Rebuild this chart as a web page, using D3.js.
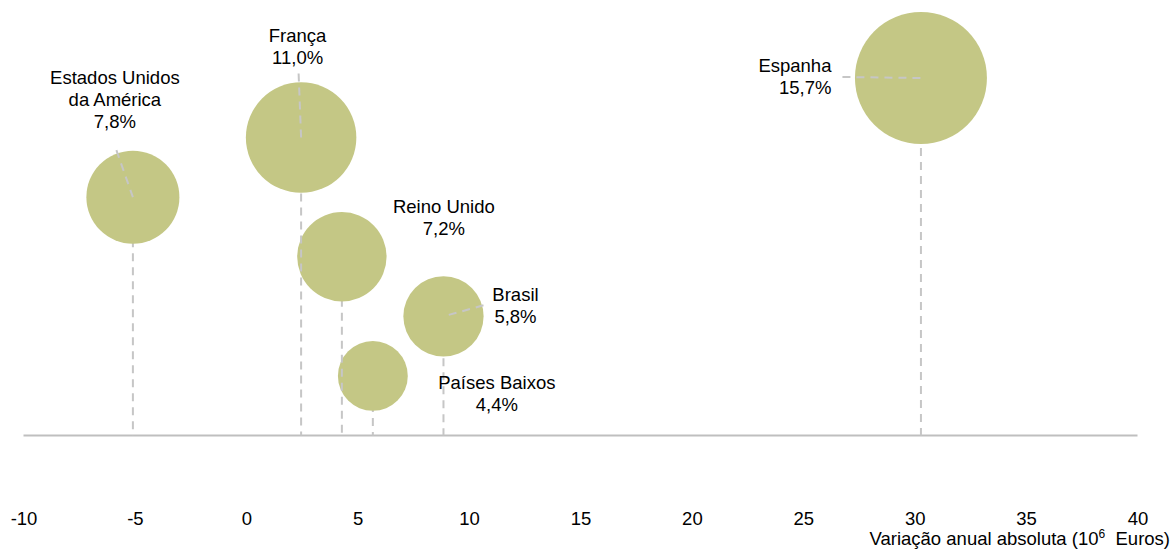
<!DOCTYPE html>
<html>
<head>
<meta charset="utf-8">
<script src="https://cdn.jsdelivr.net/npm/d3@7"></script>
<style>
  html, body { margin: 0; padding: 0; background: #ffffff; }
  svg { display: block; font-family: "Liberation Sans", Arial, sans-serif; }
</style>
</head>
<body>
<svg id="chart" width="1174" height="550"></svg>
<script>
// Países de destino, ordenados pela quota (desenho de trás para a frente)
const countries = ["Países Baixos", "Brasil", "Reino Unido", "Estados Unidos|da América", "França", "Espanha"];
// Variação anual absoluta (10^6 euros)
const variation = [5.68, 8.85, 4.29, -5.09, 2.46, 30.28];
// Posição vertical (ordem)
const rank = [1, 2, 3, 4, 5, 6];
// Quota (%)
const share = [4.4, 5.8, 7.2, 7.8, 11.0, 15.7];
const shareLabels = ["4,4%", "5,8%", "7,2%", "7,8%", "11,0%", "15,7%"];
const xTicks = [-10, -5, 0, 5, 10, 15, 20, 25, 30, 35, 40];

// Posição dos rótulos em relação ao centro da bolha (px) e início da linha de chamada
const labelStyle = [
  { dx: 124, dy: 13, anchor: "middle", leader: null },
  { dx: 72, dy: -15.5, anchor: "middle", leader: [40, -11] },
  { dx: 102, dy: -44, anchor: "middle", leader: null },
  { dx: -18, dy: -113, anchor: "middle", leader: [-16.5, -47] },
  { dx: -3.5, dy: -95.5, anchor: "middle", leader: [-2.5, -64] },
  { dx: -89.5, dy: -6.3, anchor: "end", leader: [-78.5, -1] }
];

const data = countries.map((c, i) => ({
  name: c, x: variation[i], y: rank[i], share: share[i], label: shareLabels[i], style: labelStyle[i]
}));

const svg = d3.select("#chart");
const x = d3.scaleLinear().domain([-10, 40]).range([23.5, 1137.5]);
const y = d3.scaleLinear().domain([0, 6]).range([435.5, 78]);
const r = d3.scaleSqrt().domain([0, 15.7]).range([0, 66]);

const fill = "#C4C785";
const grey = "#C6C6C6";
const fontSize = 18.5;

// Eixo horizontal na origem
svg.append("line")
  .attr("x1", x.range()[0]).attr("x2", x.range()[1])
  .attr("y1", y(0)).attr("y2", y(0))
  .attr("stroke", "#BFBFBF").attr("stroke-width", 2);

// Bolhas com linha de queda até ao eixo
const pts = svg.append("g");
data.forEach(d => {
  pts.append("line")
    .attr("x1", x(d.x)).attr("x2", x(d.x))
    .attr("y1", y(d.y)).attr("y2", y(0))
    .attr("stroke", grey).attr("stroke-width", 2)
    .attr("stroke-dasharray", "8,6");
  pts.append("circle")
    .attr("cx", x(d.x)).attr("cy", y(d.y)).attr("r", r(d.share))
    .attr("fill", fill);
});

// Linhas de chamada
const leaders = svg.append("g");
data.filter(d => d.style.leader).forEach(d => {
  leaders.append("line")
    .attr("x1", x(d.x) + d.style.leader[0]).attr("y1", y(d.y) + d.style.leader[1])
    .attr("x2", x(d.x)).attr("y2", y(d.y))
    .attr("stroke", grey).attr("stroke-width", 2)
    .attr("stroke-dasharray", "8,6");
});

// Rótulos: nome do país e quota
const labels = svg.append("g").attr("font-size", fontSize).attr("fill", "#000");
data.forEach(d => {
  const lines = d.name.split("|").concat([d.label]);
  const t = labels.append("text")
    .attr("text-anchor", d.style.anchor)
    .attr("x", x(d.x) + d.style.dx)
    .attr("y", y(d.y) + d.style.dy);
  lines.forEach((ln, i) => {
    t.append("tspan")
      .attr("x", x(d.x) + d.style.dx)
      .attr("dy", i === 0 ? 0 : 22)
      .text(ln);
  });
});

// Rótulos do eixo X (hífen simples como sinal negativo)
const axis = d3.axisBottom(x).tickValues(xTicks).tickSize(0).tickPadding(0)
  .tickFormat(d => String(d));
const gAxis = svg.append("g").attr("transform", "translate(0,512)").call(axis);
gAxis.select(".domain").remove();
gAxis.selectAll("text")
  .attr("font-family", "'Liberation Sans', Arial, sans-serif")
  .attr("font-size", fontSize).attr("fill", "#000");

// Título do eixo
const title = svg.append("text")
  .attr("x", 1170).attr("y", 545)
  .attr("text-anchor", "end")
  .attr("font-size", fontSize).attr("fill", "#000");
title.append("tspan").text("Variação anual absoluta (10");
title.append("tspan").attr("font-size", 12).attr("dy", -7).text("6");
title.append("tspan").attr("dy", 7).text("\u00a0 Euros)");
</script>
</body>
</html>
